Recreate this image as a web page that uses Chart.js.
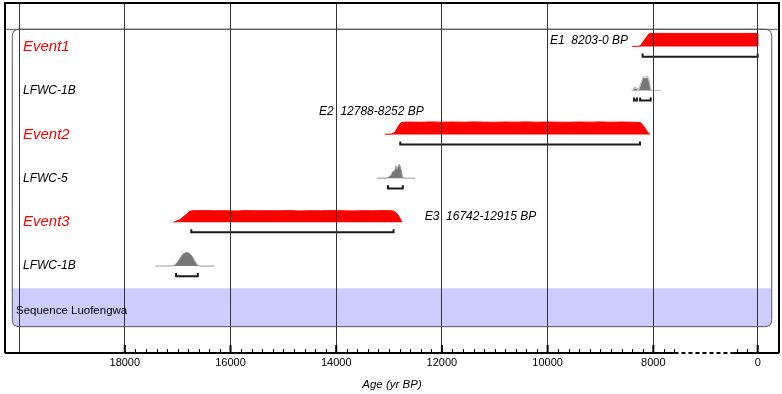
<!DOCTYPE html>
<html>
<head>
<meta charset="utf-8">
<script src="https://cdn.jsdelivr.net/npm/chart.js@4.4.0/dist/chart.umd.min.js"></script>
<style>
  html, body { margin: 0; padding: 0; background: #fff; }
  #wrap { width: 782px; height: 394px; }
</style>
</head>
<body>
<div id="wrap"><canvas id="chart"></canvas></div>
<script>
// --- data (calendar years BP) ---
const rowNames = ['Event1', 'LFWC-1B', 'Event2', 'LFWC-5', 'Event3', 'LFWC-1B'];
const rowIsEvent = [true, false, true, false, true, false];
const seqName = 'Sequence Luofengwa';

const e1Years = [8400, 8300, 8246, 8160, 8076, 8000, 0, 0];
const e1Prob  = [0, 0.02, 0.05, 0.55, 1.0, 1.0, 1.0, 0];

const e2Years = [13080, 12950, 12890, 12850, 12800, 12755, 12600, 12400, 12200, 12000, 11800, 11600, 11400, 11200, 11000, 10800, 10600, 10400, 10200, 10000, 9800, 9600, 9400, 9200, 9000, 8800, 8600, 8400, 8250, 8200, 8150, 8100, 8063];
const e2Prob  = [0, 0.03, 0.15, 0.45, 0.78, 0.92, 0.94, 0.92, 0.95, 0.93, 0.94, 0.92, 0.95, 0.93, 0.92, 0.94, 0.93, 0.95, 0.92, 0.94, 0.93, 0.92, 0.94, 0.93, 0.95, 0.92, 0.94, 0.93, 0.9, 0.72, 0.42, 0.12, 0];

const e3Years = [17080, 16950, 16850, 16766, 16710, 16500, 16300, 16100, 15900, 15700, 15500, 15300, 15100, 14900, 14700, 14500, 14300, 14100, 13900, 13700, 13500, 13300, 13100, 12950, 12900, 12850, 12800, 12760];
const e3Prob  = [0, 0.2, 0.55, 0.84, 0.87, 0.88, 0.86, 0.87, 0.85, 0.88, 0.86, 0.87, 0.86, 0.88, 0.85, 0.87, 0.86, 0.88, 0.87, 0.85, 0.87, 0.86, 0.88, 0.87, 0.82, 0.65, 0.35, 0];

const d1Years = [8410, 8380, 8365, 8330, 8308, 8290, 8270, 8240, 8219, 8195, 8150, 8100, 8070, 8049, 8020, 7860];
const d1Prob  = [0, 0.03, 0.2, 0.2, 0.15, 0.05, 0.1, 0.5, 0.65, 0.93, 0.9, 0.93, 0.5, 0.05, 0, 0];
const d1Like  = [0, 0.02, 0.15, 0.18, 0.12, 0.05, 0.1, 0.45, 0.7, 0.97, 1.05, 1.02, 0.6, 0.08, 0, 0];

const d2Years = [13230, 13060, 13000, 12960, 12930, 12890, 12872, 12850, 12820, 12800, 12770, 12745, 12700, 12510];
const d2Prob  = [0, 0.02, 0.1, 0.25, 0.5, 0.55, 0.9, 0.65, 0.95, 1.0, 0.6, 0.05, 0.01, 0];

const d3Years = [17420, 17100, 17060, 17000, 16950, 16900, 16850, 16820, 16780, 16730, 16680, 16640, 16600, 16560, 16310];
const d3Prob  = [0, 0.01, 0.06, 0.3, 0.62, 0.88, 0.99, 1.0, 0.95, 0.75, 0.4, 0.12, 0.02, 0, 0];

// 95.4% ranges drawn as brackets
const e1Range = [[8203, 0]];
const e2Range = [[12788, 8252]];
const e3Range = [[16742, 12915]];
const d1Range = [[8365, 8310], [8250, 8050]];
const d2Range = [[13020, 12740]];
const d3Range = [[17030, 16620]];

const majorTicks = [20000, 18000, 16000, 14000, 12000, 10000, 8000, 0];
const tickLabels = ['', '18000', '16000', '14000', '12000', '10000', '8000', '0'];

// --- broken axis: 7600..470 BP squeezed ---
const BREAK_HI = 7600, BREAK_LO = 470, BREAK_SHIFT = 6025;
function axisYear(v) {
  if (v >= BREAK_HI) return v;
  if (v <= BREAK_LO) return v + BREAK_SHIFT;
  return BREAK_LO + BREAK_SHIFT + (v - BREAK_LO) * (BREAK_HI - BREAK_LO - BREAK_SHIFT) / (BREAK_HI - BREAK_LO);
}

const RED = '#ff0000';
const EV_H = 0.30, DIST_H = 0.31, BR_OFF = 0.23, BR_TICK = 0.07;
const FONT = 'Liberation Sans, Arial, sans-serif';

function curve(years, prob, row, h) {
  return years.map((yr, i) => ({ x: axisYear(yr), y: row - prob[i] * h }));
}
function bracket(ranges, row) {
  const pts = [];
  ranges.forEach(([a, b]) => {
    const yb = row + BR_OFF;
    pts.push({ x: axisYear(a), y: yb - BR_TICK }, { x: axisYear(a), y: yb },
             { x: axisYear(b), y: yb }, { x: axisYear(b), y: yb - BR_TICK },
             { x: axisYear(b), y: null });
  });
  return pts;
}
function redSet(years, prob, row) {
  return { data: curve(years, prob, row, EV_H), borderColor: RED, backgroundColor: RED,
           borderWidth: 1, fill: { value: row }, pointRadius: 0 };
}
function greySet(years, prob, row) {
  return { data: curve(years, prob, row, DIST_H), borderColor: '#9a9a9a', backgroundColor: '#777777',
           borderWidth: 1, fill: { value: row }, pointRadius: 0 };
}
function bracketSet(ranges, row) {
  return { data: bracket(ranges, row), borderColor: '#1a1a1a', borderWidth: 2, fill: false,
           pointRadius: 0, spanGaps: false };
}

const datasets = [
  redSet(e1Years, e1Prob, 0), bracketSet(e1Range, 0),
  { data: curve(d1Years, d1Like, 1, DIST_H), borderColor: '#c8c8c8', borderWidth: 1, fill: false, pointRadius: 0 },
  greySet(d1Years, d1Prob, 1), bracketSet(d1Range, 1),
  redSet(e2Years, e2Prob, 2), bracketSet(e2Range, 2),
  greySet(d2Years, d2Prob, 3), bracketSet(d2Range, 3),
  redSet(e3Years, e3Prob, 4), bracketSet(e3Range, 4),
  greySet(d3Years, d3Prob, 5), bracketSet(d3Range, 5),
];

function roundBox(ctx, l, t, r, b, rad) {
  ctx.beginPath();
  ctx.moveTo(l + rad, t);
  ctx.lineTo(r - rad, t); ctx.quadraticCurveTo(r, t, r, t + rad);
  ctx.lineTo(r, b - rad); ctx.quadraticCurveTo(r, b, r - rad, b);
  ctx.lineTo(l + rad, b); ctx.quadraticCurveTo(l, b, l, b - rad);
  ctx.lineTo(l, t + rad); ctx.quadraticCurveTo(l, t, l + rad, t);
  ctx.closePath();
}

const decor = {
  id: 'decor',
  beforeDatasetsDraw(chart) {
    const { ctx, scales: { x, y } } = chart;
    const l = x.getPixelForValue(20129), r = x.getPixelForValue(5760);
    const t = y.getPixelForValue(5.506), b = y.getPixelForValue(6.38);
    ctx.save();
    ctx.fillStyle = '#ccccff';
    roundBox(ctx, l, t - 8, r, b, 7);
    ctx.save(); ctx.clip();
    ctx.fillRect(l, t, r - l, b - t);
    ctx.restore();
    // sequence box outline + top rule
    ctx.strokeStyle = '#555';
    ctx.lineWidth = 1;
    const top = y.getPixelForValue(-0.394);
    roundBox(ctx, l, top, r, b, 7);
    ctx.stroke();
    ctx.beginPath(); ctx.moveTo(chart.chartArea.left, top); ctx.lineTo(chart.chartArea.right, top); ctx.stroke();
    ctx.restore();
  },
  afterDraw(chart) {
    const { ctx, chartArea: ca, scales: { x, y } } = chart;
    ctx.save();
    // frame
    ctx.strokeStyle = '#000';
    ctx.lineWidth = 2;
    ctx.beginPath();
    ctx.moveTo(ca.left, ca.bottom); ctx.lineTo(ca.left, ca.top);
    ctx.lineTo(ca.right, ca.top); ctx.lineTo(ca.right, ca.bottom);
    ctx.stroke();
    // broken axis line
    const bHi = x.getPixelForValue(axisYear(BREAK_HI)), bLo = x.getPixelForValue(axisYear(BREAK_LO));
    ctx.beginPath(); ctx.moveTo(ca.left, ca.bottom); ctx.lineTo(bHi, ca.bottom);
    ctx.moveTo(bLo, ca.bottom); ctx.lineTo(ca.right, ca.bottom); ctx.stroke();
    ctx.setLineDash([4, 3]);
    ctx.beginPath(); ctx.moveTo(bHi, ca.bottom); ctx.lineTo(bLo, ca.bottom); ctx.stroke();
    ctx.setLineDash([]);
    // ticks (pointing up)
    ctx.lineWidth = 1;
    ctx.beginPath();
    const minor = [];
    for (let v = 17800; v >= BREAK_HI; v -= 200) minor.push(v);
    minor.push(400, 200);
    minor.forEach(v => {
      if (v % 2000 === 0) return;
      const px = Math.round(x.getPixelForValue(axisYear(v))) + 0.5;
      ctx.moveTo(px, ca.bottom); ctx.lineTo(px, ca.bottom - 4);
    });
    ctx.stroke();
    ctx.lineWidth = 2;
    ctx.beginPath();
    majorTicks.slice(1).forEach(v => {
      const px = x.getPixelForValue(axisYear(v));
      ctx.moveTo(px, ca.bottom); ctx.lineTo(px, ca.bottom - 8);
    });
    ctx.stroke();

    // row labels
    ctx.textBaseline = 'middle';
    ctx.textAlign = 'left';
    rowNames.forEach((name, i) => {
      ctx.fillStyle = rowIsEvent[i] ? RED : '#000';
      ctx.font = rowIsEvent[i] ? 'italic 15px ' + FONT : 'italic 12px ' + FONT;
      ctx.fillText(name, ca.left + 18, y.getPixelForValue(i));
    });
    ctx.fillStyle = '#000';
    ctx.font = '11.5px ' + FONT;
    ctx.fillText(seqName, ca.left + 11, y.getPixelForValue(6.03));

    // range annotations
    ctx.font = 'italic 12px ' + FONT;
    ctx.textAlign = 'right';
    ctx.fillText('E1  8203-0 BP', x.getPixelForValue(8479), y.getPixelForValue(-0.14));
    ctx.textAlign = 'left';
    ctx.fillText('E2  12788-8252 BP', x.getPixelForValue(14325), y.getPixelForValue(1.48));
    ctx.fillText('E3  16742-12915 BP', x.getPixelForValue(12325), y.getPixelForValue(3.88));
    ctx.restore();
  }
};

new Chart(document.getElementById('chart'), {
  type: 'line',
  data: { datasets },
  plugins: [decor],
  options: {
    responsive: true,
    maintainAspectRatio: false,
    animation: false,
    layout: { padding: { left: 5, right: 3, top: 3, bottom: 0 } },
    plugins: { legend: { display: false }, tooltip: { enabled: false } },
    elements: { line: { tension: 0 } },
    scales: {
      x: {
        type: 'linear',
        reverse: true,
        min: 5622,
        max: 20267,
        afterFit: (s) => { s.height = 41; },
        afterBuildTicks: (s) => { s.ticks = majorTicks.map(v => ({ value: axisYear(v) })); },
        border: { display: false },
        grid: { color: '#333', lineWidth: 1, drawTicks: false, z: 1 },
        ticks: {
          autoSkip: false,
          maxRotation: 0,
          padding: 3,
          color: '#000',
          font: { family: FONT, size: 11 },
          callback: (val, i) => tickLabels[i],
        },
        title: {
          display: true,
          text: 'Age (yr BP)',
          color: '#000',
          font: { family: FONT, size: 11.5, style: 'italic' },
          padding: { top: 0, bottom: 2 },
        },
      },
      y: {
        type: 'linear',
        display: false,
        reverse: true,
        min: -0.993,
        max: 6.98,
      },
    },
  },
});
</script>
</body>
</html>
